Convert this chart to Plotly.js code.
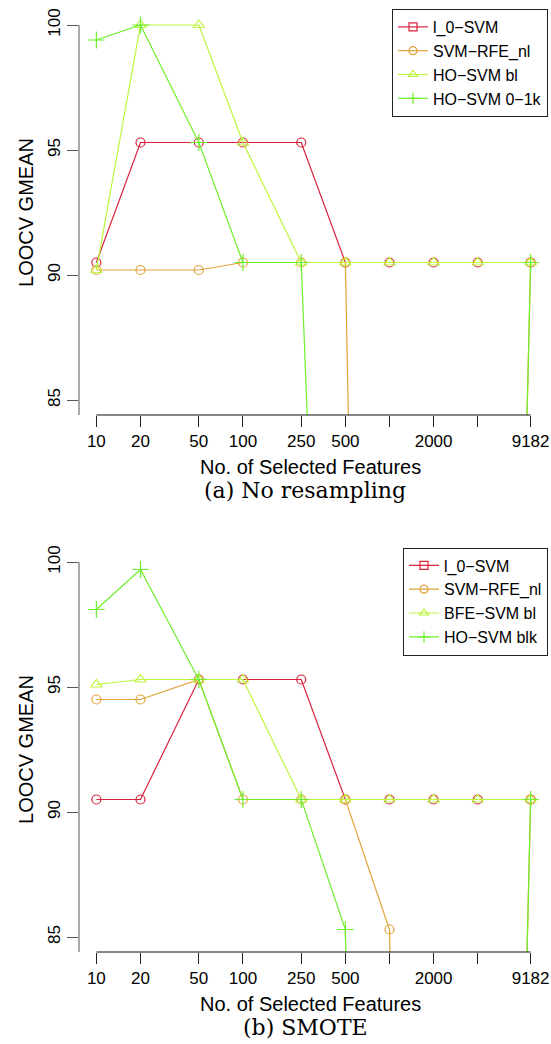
<!DOCTYPE html>
<html>
<head>
<meta charset="utf-8">
<script src="https://cdn.plot.ly/plotly-3.0.1.min.js"></script>
<style>html,body{margin:0;padding:0;background:#fff;} #chart{width:551px;height:1044px;}</style>
</head>
<body>
<div id="chart"></div>
<script>
// ---- data ----
const features = [10, 20, 50, 100, 250, 500, 1000, 2000, 4000, 9182];
const featureTickText = ['10', '20', '50', '100', '250', '500', '', '2000', '', '9182'];
const gmeanTicks = [85, 90, 95, 100];

// (a) No resampling
const noResNames = ['l_0\u2212SVM', 'SVM\u2212RFE_nl', 'HO\u2212SVM bl', 'HO\u2212SVM 0\u22121k'];
const noResL0  = [90.5, 95.3, 95.3, 95.3, 95.3, 90.5, 90.5, 90.5, 90.5, 90.5];
const noResRFE = [90.2, 90.2, 90.2, 90.5, 90.5, 90.5, 0, 0, 0, 90.5];
const noResHObl = [90.2, 100, 100, 95.3, 90.5, 90.5, 90.5, 90.5, 90.5, 90.5];
const noResHO1k = [99.4, 100, 95.3, 90.5, 90.5, 52, 0, 0, 0, 90.5];

// (b) SMOTE
const smoteNames = ['l_0\u2212SVM', 'SVM\u2212RFE_nl', 'BFE\u2212SVM bl', 'HO\u2212SVM blk'];
const smoteL0  = [90.5, 90.5, 95.3, 95.3, 95.3, 90.5, 90.5, 90.5, 90.5, 90.5];
const smoteRFE = [94.5, 94.5, 95.3, 90.5, 90.5, 90.5, 85.3, 0, 0, 90.5];
const smoteBFE = [95.1, 95.3, 95.3, 95.3, 90.5, 90.5, 90.5, 90.5, 90.5, 90.5];
const smoteHO  = [98.1, 99.7, 95.3, 90.5, 90.5, 85.3, 0, 0, 0, 90.5];

const captions = ['(a) No resampling', '(b) SMOTE'];
const xTitle = 'No. of Selected Features';
const yTitle = 'LOOCV GMEAN';

// ---- styling ----
const colors = ['#d8213a', '#e2a236', '#bdf53e', '#6ef02c'];
const symbols = ['circle-open', 'circle-open', 'triangle-up-open', 'cross-thin-open'];
const legendSymbols = ['square-open', 'circle-open', 'triangle-up-open', 'cross-thin-open'];
const sizes = [9, 9, 10, 12];

const W = 551, H = 1044;
const M = {l: 78.6, r: 2.6, t: 10, b: 92};
const PW = W - M.l - M.r, PH = H - M.t - M.b;
const topPlot = [10, 415], botPlot = [547, 952];
const py = p => (H - M.b - p) / PH;
const px = p => (p - M.l) / PW;

const xRange = [0.8815, 4.0815];
const yRange = [84.4, 100.6];

const traces = [];
function addSet(series, names, xa, ya, legendId) {
  series.forEach((vals, i) => {
    traces.push({
      x: features, y: vals, xaxis: xa, yaxis: ya, type: 'scatter', mode: 'lines+markers',
      showlegend: false,
      line: {color: colors[i], width: 1.2},
      marker: {symbol: symbols[i], size: sizes[i], color: colors[i], line: {color: colors[i], width: 1.2}}
    });
  });
  names.forEach((nm, i) => {
    traces.push({
      x: [null], y: [null], xaxis: xa, yaxis: ya, type: 'scatter', mode: 'lines+markers',
      name: nm, legend: legendId, showlegend: true,
      line: {color: colors[i], width: 1.2},
      marker: {symbol: legendSymbols[i], size: 8, color: colors[i], line: {color: colors[i], width: 1.2}}
    });
  });
}
addSet([noResL0, noResRFE, noResHObl, noResHO1k], noResNames, 'x', 'y', 'legend');
addSet([smoteL0, smoteRFE, smoteBFE, smoteHO], smoteNames, 'x2', 'y2', 'legend2');

const sans = 'Liberation Sans, Arial, sans-serif';
function xAxis(anchor) {
  return {
    type: 'log', range: xRange, anchor: anchor, domain: [0, 1],
    tickmode: 'array', tickvals: features, ticktext: featureTickText,
    ticks: 'outside', ticklen: 11, tickwidth: 1, tickcolor: '#222',
    showgrid: false, zeroline: false, showline: false,
    tickfont: {family: sans, size: 17, color: '#000'}
  };
}
function yAxis(anchor, dom) {
  return {
    range: yRange, anchor: anchor, domain: dom,
    tickmode: 'array', tickvals: gmeanTicks, tickangle: -90,
    ticks: 'outside', ticklen: 11, tickwidth: 1, tickcolor: '#555',
    showgrid: false, zeroline: false, showline: false,
    tickfont: {family: sans, size: 17, color: '#000'}
  };
}

const shapes = [];
[['x', 'y'], ['x2', 'y2']].forEach(([xa, ya]) => {
  shapes.push({type: 'line', xref: xa + ' domain', yref: ya, x0: 0, x1: 0, y0: yRange[0], y1: gmeanTicks[gmeanTicks.length - 1], line: {color: '#555', width: 1}});
  shapes.push({type: 'line', xref: xa, yref: ya + ' domain', x0: features[0], x1: features[features.length - 1], y0: 0, y1: 0, line: {color: '#111', width: 1}});
});

const annotations = [];
[topPlot, botPlot].forEach((pl, k) => {
  annotations.push({text: xTitle, xref: 'paper', yref: 'paper', x: px(310), y: py(pl[1] + 52), xanchor: 'center', yanchor: 'middle', showarrow: false, font: {family: sans, size: 20, color: '#000'}});
  annotations.push({text: yTitle, xref: 'paper', yref: 'paper', x: px(25), y: py((pl[0] + pl[1]) / 2), xanchor: 'center', yanchor: 'middle', textangle: -90, showarrow: false, font: {family: sans, size: 20, color: '#000'}});
  annotations.push({text: captions[k], xref: 'paper', yref: 'paper', x: px(305), y: py(pl[1] + 75), xanchor: 'center', yanchor: 'middle', showarrow: false, font: {family: 'DejaVu Serif, serif', size: 22, color: '#000'}});
});

const legendBase = {
  xref: 'paper', yref: 'paper', x: 1, xanchor: 'right', yanchor: 'top',
  bgcolor: '#fff', bordercolor: '#222', borderwidth: 1,
  font: {family: sans, size: 16, color: '#000'}, tracegroupgap: 0
};

const layout = {
  width: W, height: H, margin: M, paper_bgcolor: '#fff', plot_bgcolor: '#fff',
  showlegend: true,
  xaxis: xAxis('y'), yaxis: yAxis('x', [py(topPlot[1]), py(topPlot[0])]),
  xaxis2: xAxis('y2'), yaxis2: yAxis('x2', [py(botPlot[1]), py(botPlot[0])]),
  legend: Object.assign({}, legendBase, {y: py(9)}),
  legend2: Object.assign({}, legendBase, {y: py(547.5)}),
  shapes: shapes, annotations: annotations
};

Plotly.newPlot('chart', traces, layout, {displayModeBar: false, staticPlot: true});
</script>
</body>
</html>
